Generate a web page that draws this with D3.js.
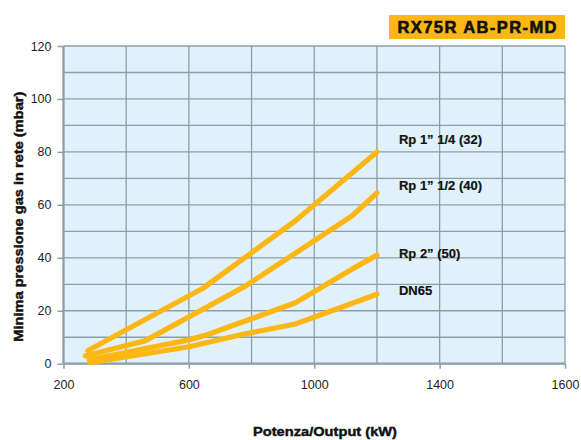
<!DOCTYPE html>
<html>
<head>
<meta charset="utf-8">
<script src="https://cdn.jsdelivr.net/npm/d3@7"></script>
<style>
  html, body { margin: 0; padding: 0; background: #ffffff; }
  svg { display: block; }
  text { font-family: "Liberation Sans", Arial, Helvetica, sans-serif; }
</style>
</head>
<body>
<svg id="chart" width="581" height="440"></svg>
<script>
// ---- DATA ----
const title = "RX75R AB-PR-MD";
const xAxisTitle = "Potenza/Output (kW)";
const yAxisTitle = "Minima pressione gas in rete (mbar)";
const seriesNames = ["Rp 1\u201D 1/4 (32)", "Rp 1\u201D 1/2 (40)", "Rp 2\u201D (50)", "DN65"];
const kw32 = [278, 645, 940, 1200];
const mbar32 = [5, 28.5, 54, 80];
const kw40 = [270, 460, 780, 1120, 1200];
const mbar40 = [3, 8.6, 29.3, 55.8, 64.5];
const kw50 = [282, 600, 660, 940, 1120, 1200];
const mbar50 = [1.5, 9, 11, 23, 35.7, 41];
const kwDN65 = [285, 600, 780, 940, 1200];
const mbarDN65 = [0.4, 6.4, 11.3, 15, 26.2];
const xTickValues = [200, 600, 1000, 1400, 1800];
const xTickLabels = ["200", "600", "1000", "1400", "1600"];
const yTickValues = [0, 20, 40, 60, 80, 100, 120];
const xDomain = [200, 1800];
const yDomain = [0, 120];

// ---- LAYOUT / STYLE ----
const pLeft = 63.5, pRight = 565, pTop = 46, pBottom = 363.7;
const lineColor = "#fdb714";
const gridColor = "#8d9ea6";
const plotBg = "#e0f1fb";
const labelDy = [-12, -7, -2, -4];

const svg = d3.select("#chart");
const x = d3.scaleLinear().domain(xDomain).range([pLeft, pRight]);
const y = d3.scaleLinear().domain(yDomain).range([pBottom, pTop]);

// plot background
svg.append("rect")
  .attr("x", pLeft).attr("y", pTop)
  .attr("width", pRight - pLeft).attr("height", pBottom - pTop)
  .attr("fill", plotBg);

// grid
const g = svg.append("g");
g.selectAll("line.v").data(d3.range(xDomain[0], xDomain[1] + 1, 200)).join("line")
  .attr("class", "v")
  .attr("x1", d => x(d)).attr("x2", d => x(d))
  .attr("y1", pTop).attr("y2", pBottom)
  .attr("stroke", gridColor).attr("stroke-width", 1.3);
g.selectAll("line.h").data(d3.range(yDomain[0], yDomain[1] + 1, 10)).join("line")
  .attr("class", "h")
  .attr("y1", d => y(d)).attr("y2", d => y(d))
  .attr("x1", pLeft).attr("x2", pRight)
  .attr("stroke", gridColor).attr("stroke-width", 1.3);

// axes
const xAxis = d3.axisBottom(x).tickValues(xTickValues)
  .tickFormat((d, i) => xTickLabels[i]).tickSize(5).tickPadding(8);
const yAxis = d3.axisLeft(y).tickValues(yTickValues).tickSize(6).tickPadding(6);

const gx = svg.append("g").attr("transform", `translate(0,${pBottom})`).call(xAxis);
const gy = svg.append("g").attr("transform", `translate(${pLeft},0)`).call(yAxis);
[gx, gy].forEach(a => {
  a.select(".domain").attr("stroke", gridColor).attr("stroke-width", 2.2);
  a.selectAll(".tick line").attr("stroke", gridColor).attr("stroke-width", 1.5);
  a.selectAll(".tick text").attr("fill", "#231f20")
    .style("font-size", "12.5px")
    .style("font-family", "'Liberation Sans', Arial, sans-serif");
});
gx.select(".domain").attr("d", `M${pLeft},0H${pRight}`);
gy.select(".domain").attr("d", `M0,${pTop}V${pBottom}`);
gx.selectAll(".tick text").attr("dy", "0.95em");

// series
const series = [
  { kw: kw32, v: mbar32 },
  { kw: kw40, v: mbar40 },
  { kw: kw50, v: mbar50 },
  { kw: kwDN65, v: mbarDN65 }
];
const line = d3.line().x(d => x(d[0])).y(d => y(d[1]));
svg.append("g").selectAll("path").data(series).join("path")
  .attr("d", s => line(s.kw.map((k, i) => [k, s.v[i]])))
  .attr("fill", "none")
  .attr("stroke", lineColor)
  .attr("stroke-width", 5.3)
  .attr("stroke-linecap", "round")
  .attr("stroke-linejoin", "round");

// series labels
svg.append("g").selectAll("text").data(series).join("text")
  .attr("x", s => x(s.kw[s.kw.length - 1]) + 22)
  .attr("y", s => y(s.v[s.v.length - 1]))
  .attr("dy", (s, i) => labelDy[i] + 4.5)
  .attr("font-weight", "bold")
  .attr("font-size", "13px")
  .attr("fill", "#111")
  .attr("stroke", "#111").attr("stroke-width", 0.2)
  .text((s, i) => seriesNames[i]);

// title box
svg.append("rect")
  .attr("x", 389).attr("y", 15).attr("width", 176).attr("height", 24)
  .attr("fill", "#fdb714");
svg.append("text")
  .attr("x", 477).attr("y", 33.3)
  .attr("text-anchor", "middle")
  .attr("font-weight", "bold")
  .attr("font-size", "16.5px")
  .attr("textLength", 159)
  .attr("lengthAdjust", "spacing")
  .attr("fill", "#111")
  .attr("stroke", "#111").attr("stroke-width", 0.6)
  .text(title);

// axis titles
svg.append("text")
  .attr("x", 325).attr("y", 436)
  .attr("text-anchor", "middle")
  .attr("font-weight", "bold")
  .attr("font-size", "13.5px")
  .attr("textLength", 144)
  .attr("lengthAdjust", "spacingAndGlyphs")
  .attr("fill", "#111")
  .attr("stroke", "#111").attr("stroke-width", 0.45)
  .text(xAxisTitle);

svg.append("text")
  .attr("transform", "translate(23,216.7) rotate(-90)")
  .attr("text-anchor", "middle")
  .attr("font-weight", "bold")
  .attr("font-size", "13.5px")
  .attr("textLength", 250)
  .attr("lengthAdjust", "spacingAndGlyphs")
  .attr("fill", "#111")
  .attr("stroke", "#111").attr("stroke-width", 0.45)
  .text(yAxisTitle);
</script>
</body>
</html>
